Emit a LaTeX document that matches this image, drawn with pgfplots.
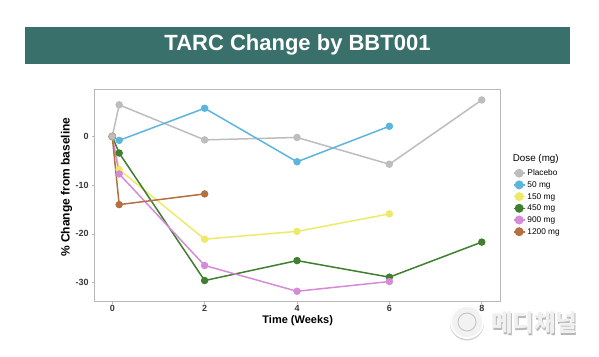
\documentclass[border=0pt]{standalone}
\usepackage{pgfplots}
\pgfplotsset{compat=1.18}
\usepackage{fontspec}
\setmainfont{Liberation Sans}
\newfontfamily\krfont{Noto Sans CJK KR}
\definecolor{banner}{HTML}{3A706B}
\definecolor{cgrey}{HTML}{BDBDBD}
\definecolor{cblue}{HTML}{5BB5DD}
\definecolor{cyellow}{HTML}{EFE96A}
\definecolor{cgreen}{HTML}{3F7F2F}
\definecolor{cpurple}{HTML}{D58BD8}
\definecolor{cbrown}{HTML}{B57042}
\definecolor{frame}{HTML}{B8B8B8}
\definecolor{ticktext}{HTML}{3A3A3A}
\pgfplotsset{
  ser/.style={color=#1, line width=1.5pt, mark=*, mark size=3.2pt, mark options={solid, fill=#1, draw=#1, line width=1pt}},
}
\begin{document}
\begin{tikzpicture}[x=1pt,y=1pt]
\path (0,0) rectangle (599,356);
\fill[banner] (25,292) rectangle (570,329);
\node[text=white,font=\bfseries\fontsize{22}{26}\selectfont] at (297.5,311) {TARC Change by BBT001};
% watermark, under the axis
\fill[black!18] (467,32.5) circle (17);
\fill[black!5] (467,34) circle (17);
\draw[white, line width=1.5pt] (467,34) circle (16);
\draw[black!22, line width=1pt] (467,34) circle (9);
\node[text=black!28, font=\krfont\bfseries\fontsize{23.5}{25}\selectfont, anchor=west] at (488.5,31.7) {메디채널};
\node[text=black!6, font=\krfont\bfseries\fontsize{23.5}{25}\selectfont, anchor=west] at (487.5,33) {메디채널};
\begin{axis}[
  at={(94.7pt,55pt)}, anchor=south west,
  scale only axis, width=406pt, height=211pt,
  xmin=-0.38, xmax=8.41, ymin=-33.8, ymax=9.55,
  xtick={0,2,4,6,8}, ytick={-30,-20,-10,0},
  axis line style={frame, line width=1pt},
  tick style={frame, line width=0.6pt},
  tick align=outside, major tick length=2.5pt,
  tick pos=left,
  tick label style={font=\bfseries\fontsize{9}{10}\selectfont, text=ticktext},
  /pgf/number format/assume math mode=true,
  xticklabel style={yshift=1.5pt},
  xlabel={\textbf{Time (Weeks)}},
  ylabel={\textbf{\% Change from baseline}},
  xlabel style={font=\fontsize{11}{12}\selectfont, at={(axis description cs:0.5,0)}, anchor=north, yshift=-11pt},
  ylabel style={font=\fontsize{12}{13}\selectfont, at={(axis description cs:0,0.54)}, anchor=south, yshift=19pt},
  legend cell align=left,
  legend style={draw=none, fill=none, at={(axis description cs:1.03,0.627)}, anchor=north west,
    font=\fontsize{8.3}{8.3}\selectfont, inner sep=0pt, outer sep=0pt,
    row sep=2.7pt,
    nodes={inner ysep=0pt, text height=7pt, text depth=2pt},
    /tikz/every even column/.append style={column sep=5.5pt}},
  legend image code/.code={
    \draw[line width=1.6pt] (0pt,0) -- (11pt,0);
    \fill (5.5pt,0) circle (3.7pt);
  },
  clip=false,
]
\addplot[ser=cgrey] coordinates {(0,0) (0.15,6.5) (2,-0.7) (4,-0.2) (6,-5.7) (8,7.5)};
\addlegendentry{Placebo}
\addplot[ser=cblue] coordinates {(0,0) (0.15,-0.8) (2,5.8) (4,-5.2) (6,2.1)};
\addlegendentry{50 mg}
\addplot[ser=cyellow] coordinates {(0,0) (0.15,-6.8) (2,-21.1) (4,-19.5) (6,-15.9)};
\addlegendentry{150 mg}
\addplot[ser=cgreen] coordinates {(0,0) (0.15,-3.4) (2,-29.6) (4,-25.5) (6,-28.9) (8,-21.7)};
\addlegendentry{450 mg}
\addplot[ser=cpurple] coordinates {(0,0) (0.15,-7.7) (2,-26.5) (4,-31.8) (6,-29.8)};
\addlegendentry{900 mg}
\addplot[ser=cbrown] coordinates {(0,0) (0.15,-14) (2,-11.8)};
\addlegendentry{1200 mg}
\addplot[only marks, mark=*, mark size=3.2pt, color=cgrey, forget plot] coordinates {(0,0)};
\end{axis}
\node[anchor=west,font=\fontsize{9.8}{11}\selectfont,inner sep=0pt] at (512.7,197) {Dose (mg)};
\end{tikzpicture}
\end{document}
